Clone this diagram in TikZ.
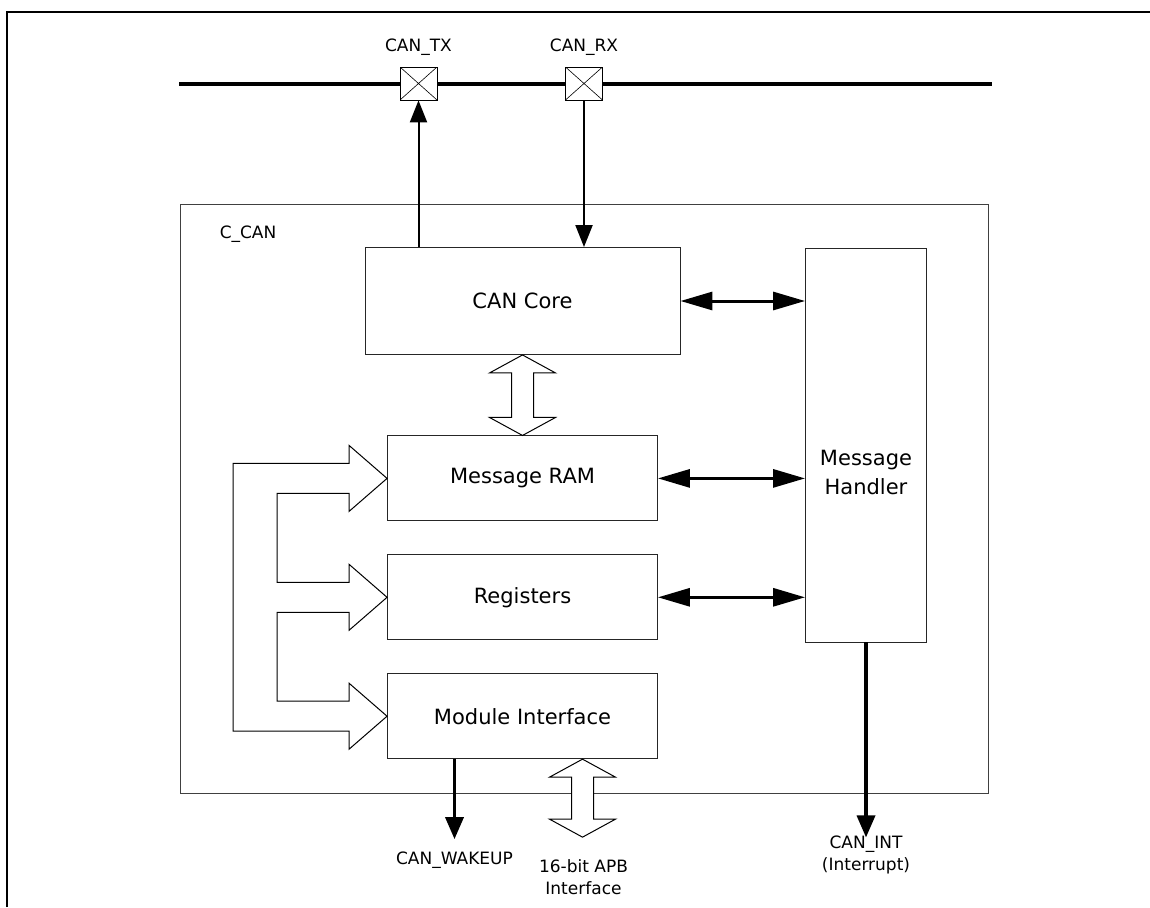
\documentclass[tikz,border=0pt]{standalone}
\usepackage{fontspec}
\setmainfont{DejaVu Sans}
\usetikzlibrary{arrows.meta,positioning,calc}
\newcommand\boxfont{\fontsize{21}{29}\selectfont}
\newcommand\pinfont{\fontsize{17}{22}\selectfont}

\begin{document}
\begin{tikzpicture}[
        x=1pt, y=-1pt,
        block/.style={draw=black!85, line width=0.9pt, inner sep=0pt, align=center, font=\boxfont, minimum width=270pt, minimum height=85pt},
        frame/.style={draw=black!75, line width=0.9pt, inner sep=0pt},
        pin/.style={draw, fill=white, line width=0.8pt, inner sep=0pt, minimum width=37pt, minimum height=33pt,
            path picture={\draw[line width=0.6pt] (path picture bounding box.north west) -- (path picture bounding box.south east)
                (path picture bounding box.north east) -- (path picture bounding box.south west);}},
        lbl/.style={font=\pinfont, inner sep=0pt, align=center},
        sig/.style={line width=2pt, -{Triangle[length=22pt, width=17pt]}},
        sigbold/.style={line width=3.5pt, -{Triangle[length=22pt, width=18pt]}},
        bidir/.style={line width=3pt, {Triangle[length=32pt, width=18pt]}-{Triangle[length=32pt, width=18pt]}},
        hollow/.style={draw, fill=white, line width=1pt, line join=miter}
    ]
    \useasboundingbox (0,0) rectangle (1150,907);

    % page frame
    \draw[line width=2pt] (7,907) -- (7,12) -- (1150,12);

    % bus and pins
    \coordinate (busW) at (179,84);
    \coordinate (busE) at (992,84);
    \draw[line width=3.5pt] (busW) -- (busE);
    \node[pin] (tx) at (418.5,83.5) {};
    \node[pin] (rx) at (584,83.5) {};
    \node[lbl, anchor=base] (txlbl) at ($(tx.north)+(0,-15)$) {CAN\_TX};
    \node[lbl, anchor=base] (rxlbl) at ($(rx.north)+(0,-15)$) {CAN\_RX};

    % C_CAN module
    \node[frame, minimum width=808pt, minimum height=589pt] (ccan) at (584,498.5) {};
    \node[lbl, anchor=base west] (ccanlbl) at ($(ccan.north west)+(40,35)$) {C\_CAN};

    \node[block, minimum width=315pt, minimum height=107pt] (core) at (522.5,301) {CAN Core};
    \node[block, below=80.5pt of core] (ram) {Message RAM};
    \node[block, below=33pt of ram] (reg) {Registers};
    \node[block, below=33pt of reg] (modif) {Module Interface};
    \node[block, minimum width=121pt, minimum height=394pt] (handler) at (866,445) {};
    \node[font=\boxfont, align=center, inner sep=0pt] (handlertxt) at ($(handler.center)+(0,27)$) {Message\\Handler};

    % pins to core
    \draw[sig] (core.north -| tx) -- (tx.south);
    \draw[sig] (rx.south) -- (rx.south |- core.north);

    % to message handler
    \draw[bidir] (core.east) -- (core.east -| handler.west);
    \draw[bidir] (ram.east) -- (ram.east -| handler.west);
    \draw[bidir] (reg.east) -- (reg.east -| handler.west);

    % core <-> message RAM
    \draw[hollow] (core.south) -- ++(33,18) -- ++(-22,0) -- ($(ram.north)+(11,-18)$) -- ++(22,0)
        -- (ram.north) -- ++(-33,-18) -- ++(22,0) -- ($(core.south)+(-11,18)$) -- ++(-22,0) -- cycle;

    % internal bus on the left
    \draw[hollow, fill=none] (ram.west) -- ++(-38,-33) -- ++(0,18) -- ($(ram.west)+(-154,-15)$)
        -- ($(modif.west)+(-154,15)$) -- ($(modif.west)+(-38,15)$) -- ++(0,18) -- (modif.west)
        -- ++(-38,-33) -- ++(0,18) -- ($(modif.west)+(-110,-15)$) -- ($(reg.west)+(-110,15)$)
        -- ($(reg.west)+(-38,15)$) -- ++(0,18) -- (reg.west) -- ++(-38,-33) -- ++(0,18)
        -- ($(reg.west)+(-110,-15)$) -- ($(ram.west)+(-110,15)$) -- ($(ram.west)+(-38,15)$)
        -- ++(0,18) -- cycle;

    % outputs at the bottom
    \coordinate (wakeend) at ($(modif.south)+(-68,80)$);
    \draw[sigbold] (modif.south -| wakeend) -- (wakeend);
    \node[lbl, anchor=base] (wakelbl) at ($(wakeend)+(0,25)$) {CAN\_WAKEUP};

    \coordinate (apbtop) at ($(modif.south)+(60,0)$);
    \coordinate (apbend) at ($(apbtop)+(0,78)$);
    \draw[hollow] (apbtop) -- ++(33,18) -- ++(-22,0) -- ($(apbend)+(11,-18)$) -- ++(22,0)
        -- (apbend) -- ++(-33,-18) -- ++(22,0) -- ($(apbtop)+(-11,18)$) -- ++(-22,0) -- cycle;
    \node[lbl, anchor=north] (apblbl) at ($(apbend)+(1,22)$) {16-bit APB\\Interface};

    \coordinate (intend) at ($(handler.south)+(0,195)$);
    \draw[sigbold] (handler.south) -- (intend);
    \node[lbl, anchor=north] (intlbl) at ($(intend)+(0,-2)$) {CAN\_INT\\(Interrupt)};
\end{tikzpicture}
\end{document}
